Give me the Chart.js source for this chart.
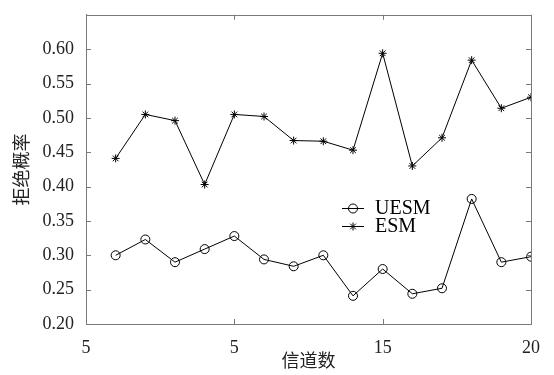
<!DOCTYPE html>
<html>
<head>
<meta charset="utf-8">
<script src="https://cdn.jsdelivr.net/npm/chart.js@4"></script>
<style>
  html, body { margin: 0; padding: 0; background: #fff; }
  #wrap { width: 554px; height: 375px; }
</style>
</head>
<body>
<div id="wrap"><canvas id="c" width="554" height="375"></canvas></div>
<script>
// Number of channels on the x axis
const channels = [6, 7, 8, 9, 10, 11, 12, 13, 14, 15, 16, 17, 18, 19, 20];
// Rejection probability per scheme
const uesm = [0.300, 0.323, 0.290, 0.309, 0.328, 0.294, 0.284, 0.300, 0.241, 0.280, 0.244, 0.252, 0.382, 0.290, 0.298];
const esm  = [0.441, 0.505, 0.496, 0.403, 0.505, 0.502, 0.467, 0.466, 0.453, 0.594, 0.430, 0.471, 0.584, 0.514, 0.530];
// Axis tick values and their printed labels
const xTickValues = [5, 10, 15, 20];
const xTickLabels = ['5', '5', '15', '20'];
const yTickValues = [0.20, 0.25, 0.30, 0.35, 0.40, 0.45, 0.50, 0.55, 0.60];
const yTickLabels = ['0.20', '0.25', '0.30', '0.35', '0.40', '0.45', '0.50', '0.55', '0.60'];
const seriesNames = ['UESM', 'ESM'];

const serif = "'Liberation Serif', 'Times New Roman', serif";
const cjk = "'Noto Sans CJK SC', sans-serif";
const frameColor = '#7a7a7a';

const toPoints = ys => ys.map((y, i) => ({ x: channels[i], y }));

// Box frame with inward tick marks on all four sides, plus legend inside the plot
const framePlugin = {
  id: 'frame',
  afterDatasetsDraw(chart) {
    const { ctx, chartArea: a, scales: { x, y } } = chart;
    ctx.save();
    ctx.strokeStyle = frameColor;
    ctx.lineWidth = 1;
    ctx.strokeRect(Math.round(a.left) + 0.5, Math.round(a.top) + 0.5,
                   Math.round(a.right - a.left), Math.round(a.bottom - a.top));
    const t = 5;
    ctx.beginPath();
    xTickValues.forEach(v => {
      const px = Math.round(x.getPixelForValue(v)) + 0.5;
      ctx.moveTo(px, a.bottom); ctx.lineTo(px, a.bottom - t);
      ctx.moveTo(px, a.top); ctx.lineTo(px, a.top + t);
    });
    yTickValues.concat([0.65]).forEach(v => {
      const py = Math.round(y.getPixelForValue(v)) + 0.5;
      ctx.moveTo(a.left, py); ctx.lineTo(a.left + t, py);
      ctx.moveTo(a.right, py); ctx.lineTo(a.right - t, py);
    });
    ctx.stroke();

    // legend
    const lx = 342, lw = 22, ly0 = 208, dy = 18;
    chart.data.datasets.forEach((ds, i) => {
      const yy = ly0 + i * dy;
      ctx.strokeStyle = '#000';
      ctx.fillStyle = ds.pointBackgroundColor;
      ctx.lineWidth = 1;
      ctx.beginPath();
      ctx.moveTo(lx, yy + 0.5); ctx.lineTo(lx + lw, yy + 0.5);
      ctx.stroke();
      Chart.helpers.drawPoint(ctx, {
        pointStyle: ds.pointStyle, radius: ds.pointRadius, borderWidth: 1
      }, lx + lw / 2, yy + 0.5);
      ctx.fillStyle = '#000';
      ctx.font = '20px ' + serif;
      ctx.textBaseline = 'middle';
      ctx.textAlign = 'left';
      ctx.fillText(ds.label, lx + lw + 11, yy + 1);
    });
    ctx.restore();
  }
};

new Chart(document.getElementById('c'), {
  type: 'line',
  data: {
    datasets: [
      {
        label: seriesNames[0],
        data: toPoints(uesm),
        borderColor: '#000', borderWidth: 1,
        pointStyle: 'circle', pointRadius: 4.5,
        pointBackgroundColor: 'rgba(0,0,0,0)', pointBorderColor: '#000', pointBorderWidth: 1,
        tension: 0
      },
      {
        label: seriesNames[1],
        data: toPoints(esm),
        borderColor: '#000', borderWidth: 1,
        pointStyle: 'star', pointRadius: 4,
        pointBackgroundColor: '#000', pointBorderColor: '#000', pointBorderWidth: 1,
        tension: 0
      }
    ]
  },
  options: {
    responsive: false,
    animation: false,
    events: [],
    layout: { padding: { left: 0, right: 23, top: 9, bottom: 0 } },
    plugins: { legend: { display: false }, tooltip: { enabled: false } },
    scales: {
      x: {
        type: 'linear', min: 5, max: 20,
        afterFit: s => { s.height = 51; },
        afterBuildTicks: s => { s.ticks = xTickValues.map(v => ({ value: v })); },
        grid: { display: false },
        border: { display: true, color: frameColor },
        ticks: {
          color: '#222', padding: 5, maxRotation: 0,
          font: { family: serif, size: 18 },
          callback: (v) => xTickLabels[xTickValues.indexOf(v)]
        },
        title: {
          display: true, text: '信道数', color: '#222',
          font: { family: cjk, size: 18 }, padding: { top: 0, bottom: 4 }
        }
      },
      y: {
        min: 0.20, max: 0.65,
        afterFit: s => { s.width = 86; },
        afterBuildTicks: s => { s.ticks = yTickValues.map(v => ({ value: v })); },
        grid: { display: false },
        border: { display: true, color: frameColor },
        ticks: {
          color: '#222', padding: 4,
          font: { family: serif, size: 18 },
          callback: (v) => {
            const i = yTickValues.findIndex(t => Math.abs(t - v) < 1e-9);
            return i >= 0 ? yTickLabels[i] : '';
          }
        },
        title: {
          display: true, text: '拒绝概率', color: '#222',
          font: { family: cjk, size: 18 }, padding: { top: 10, bottom: 0 }
        }
      }
    }
  },
  plugins: [framePlugin]
});
</script>
</body>
</html>
